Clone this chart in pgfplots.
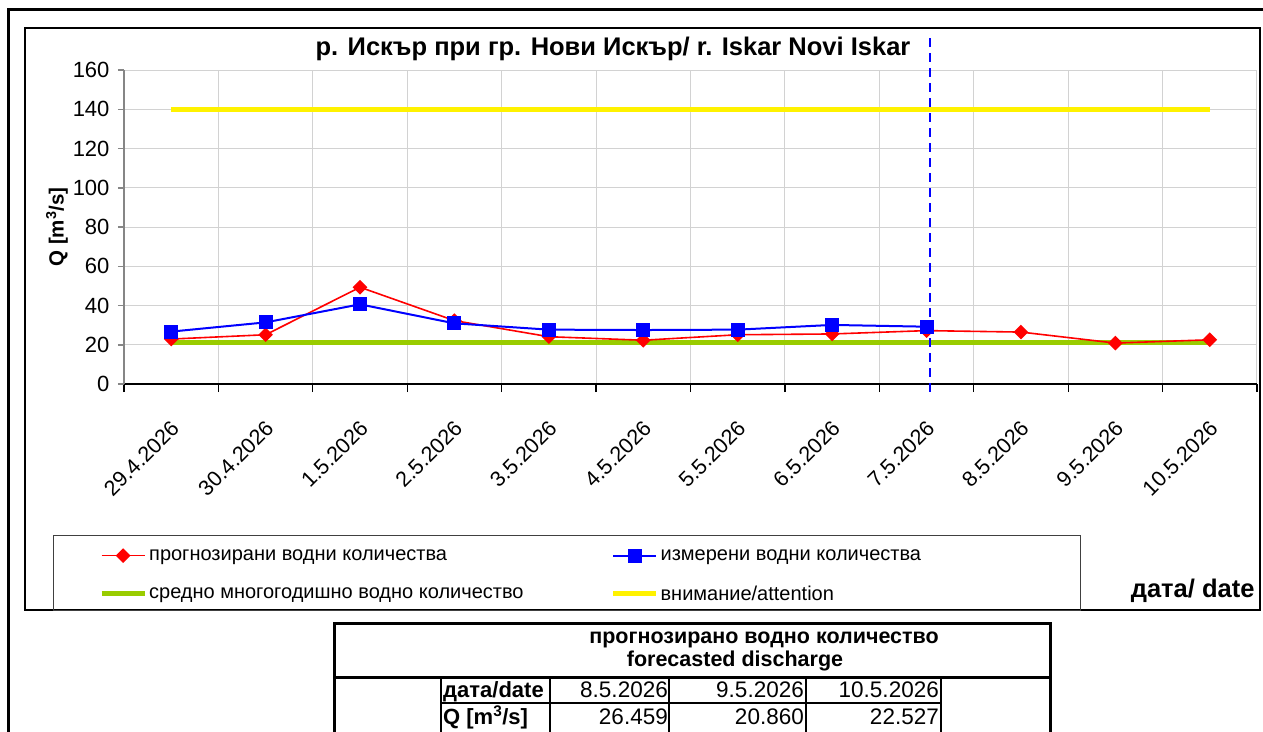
\documentclass[border=0pt]{standalone}
\usepackage{pgfplots}
\pgfplotsset{compat=1.18}
\usepackage{fontspec}
\setmainfont{Liberation Sans}
\definecolor{meangreen}{RGB}{153,204,0}
\definecolor{gridgray}{RGB}{210,210,210}
\definecolor{axgray}{RGB}{134,134,134}
\begin{document}
\begin{tikzpicture}[x=1pt,y=1pt]
\useasboundingbox (-124,-347) rectangle (1139,384);
% outer frames
\draw[line width=3pt] (-115,-400) -- (-115,374) -- (1160,374);
\draw[line width=2pt] (-99,-226) rectangle (1136,356);
\draw[line width=0.8pt, black!75] (-71,-151) rectangle (956,-226);
\begin{axis}[
  at={(0,0)}, anchor=south west,
  scale only axis, width=1133pt, height=314pt,
  xmin=-0.5, xmax=11.5, ymin=0, ymax=160,
  clip=false,
  axis x line*=bottom, axis y line*=left,
  x axis line style={black, line width=1.5pt},
  y axis line style={axgray, line width=2pt},
  xtick={0,...,11},
  xticklabels={29.4.2026,30.4.2026,1.5.2026,2.5.2026,3.5.2026,4.5.2026,5.5.2026,6.5.2026,7.5.2026,8.5.2026,9.5.2026,10.5.2026},
  major x tick style={draw=none},
  minor xtick={-0.5,0.5,...,11.5},
  minor x tick style={black, line width=1.2pt},
  xminorgrids=true, xmajorgrids=false,
  minor x grid style={gridgray, line width=1pt},
  ytick={0,20,...,160},
  ymajorgrids=true,
  major y grid style={gridgray, line width=1pt},
  y tick style={axgray, line width=1.5pt},
  tick align=outside,
  major tick length=6pt, minor tick length=8pt,
  /pgf/number format/assume math mode=true,
  yticklabel style={font=\fontsize{22}{22}\selectfont, xshift=-5pt},
  xticklabel style={font=\fontsize{21.5}{21.5}\selectfont, rotate=45, anchor=north east, xshift=-18pt, yshift=-16pt},
  title={р. Искър при гр. Нови Искър/ r. Iskar Novi Iskar},
  title style={at={(axis description cs:0.4316,1.0255)}, anchor=base, font=\bfseries\fontsize{25.5}{25.5}\selectfont},
  ylabel={Q [m\textsuperscript{3}/s]},
  ylabel style={at={(axis description cs:-0.0591,0.5)}, anchor=center, rotate=0, font=\bfseries\fontsize{20.5}{20.5}\selectfont},
  xlabel={дата/ date},
  xlabel style={at={(axis description cs:1.0009,-0.6815)}, anchor=base east, font=\bfseries\fontsize{25.5}{25.5}\selectfont},
  legend image code/.code={\draw[mark repeat=2,mark phase=2,#1] plot coordinates {(0pt,0pt) (21.5pt,0pt) (43pt,0pt)};},
  legend columns=2,
  legend cell align=left,
  legend style={draw=none, fill=none, inner sep=0pt, at={(axis description cs:-0.0221,-0.52)}, anchor=north west,
    font=\fontsize{20}{23}\selectfont, nodes={inner sep=2pt},
    /tikz/every even column/.append style={column sep=85pt}, row sep=20pt},
]
\addplot[forget plot, meangreen, line width=5pt] coordinates {(0,21) (11,21)};
\addplot[forget plot, yellow, line width=5pt] coordinates {(0,140) (11,140)};
\addplot[forget plot, blue, line width=1.8pt, dash pattern=on 9pt off 6pt] coordinates {(8.04,-4) (8.04,178)};
\addplot[red, line width=1.6pt, mark=square*, mark size=4.4pt, mark options={rotate=45, solid}] coordinates {
 (0,22.9) (1,25.1) (2,49.3) (3,32.3) (4,24.1) (5,22.3) (6,25.1) (7,25.5) (8,27.2) (9,26.459) (10,20.860) (11,22.527)};
\addplot[blue, line width=2pt, mark=square*, mark size=6pt, mark options={solid}] coordinates {
 (0,26.7) (1,31.4) (2,40.6) (3,30.9) (4,27.7) (5,27.5) (6,27.7) (7,30.1) (8,29.2)};
\addlegendimage{meangreen, line width=5pt}
\addlegendimage{yellow, line width=5pt}
\legend{прогнозирани водни количества, измерени водни количества, средно многогодишно водно количество, внимание/attention}
\end{axis}
% table
\draw[line width=3pt] (210,-400) -- (210,-239) -- (926,-239) -- (926,-400);
\draw[line width=3pt] (210,-293) -- (926,-293);
\foreach \xx in {317,426,545,682,817} {\draw[line width=2pt] (\xx,-293) -- (\xx,-400);}
\draw[line width=1.5pt] (317,-319) -- (817,-319);
\node[anchor=base, font=\bfseries\fontsize{21.5}{21.5}\selectfont] at (640,-259) {прогнозирано водно количество};
\node[anchor=base, font=\bfseries\fontsize{21.5}{21.5}\selectfont] at (611,-282) {forecasted discharge};
\node[anchor=base west, inner sep=0pt, font=\bfseries\fontsize{22}{22}\selectfont] at (319,-313) {дата/date};
\node[anchor=base west, inner sep=0pt, font=\bfseries\fontsize{22}{22}\selectfont] at (319,-340) {Q [m\textsuperscript{3}/s]};
\node[anchor=base east, inner sep=0pt, font=\fontsize{22.5}{22.5}\selectfont] at (544,-313) {8.5.2026};
\node[anchor=base east, inner sep=0pt, font=\fontsize{22.5}{22.5}\selectfont] at (680,-313) {9.5.2026};
\node[anchor=base east, inner sep=0pt, font=\fontsize{22.5}{22.5}\selectfont] at (815,-313) {10.5.2026};
\node[anchor=base east, inner sep=0pt, font=\fontsize{22.5}{22.5}\selectfont] at (544,-340) {26.459};
\node[anchor=base east, inner sep=0pt, font=\fontsize{22.5}{22.5}\selectfont] at (680,-340) {20.860};
\node[anchor=base east, inner sep=0pt, font=\fontsize{22.5}{22.5}\selectfont] at (815,-340) {22.527};
\end{tikzpicture}
\end{document}
